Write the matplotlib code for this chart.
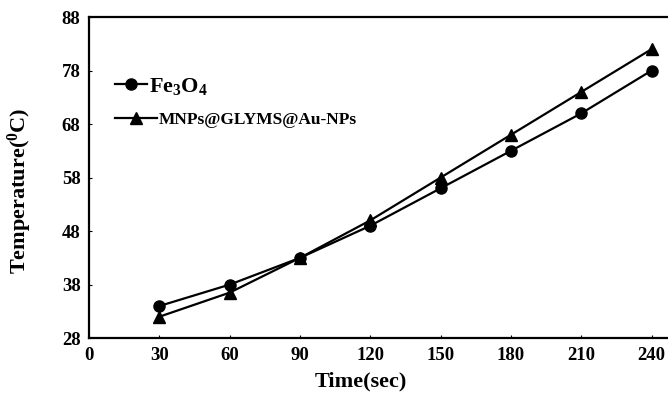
import numpy as np
import matplotlib
matplotlib.use('Agg')
import matplotlib.pyplot as plt

plt.rcParams['font.family'] = 'Liberation Serif'
plt.rcParams['font.weight'] = 'bold'
plt.rcParams['mathtext.fontset'] = 'custom'
plt.rcParams['mathtext.rm'] = 'Liberation Serif:bold'
plt.rcParams['mathtext.it'] = 'Liberation Serif:bold'
plt.rcParams['mathtext.bf'] = 'Liberation Serif:bold'

# data
time_sec = [30, 60, 90, 120, 150, 180, 210, 240]
fe3o4 = [34, 38, 43, 49, 56, 63, 70, 78]
mnps_au = [32, 36.5, 43, 50, 58, 66, 74, 82]
xticks = [0, 30, 60, 90, 120, 150, 180, 210, 240]
yticks = [28, 38, 48, 58, 68, 78, 88]

fig = plt.figure(figsize=(6.68, 3.96), dpi=100)
ax = fig.add_axes([0.133, 0.146, 0.867, 0.811])

l1, = ax.plot(time_sec, fe3o4, color='black', lw=1.6, marker='o', ms=8)
l2, = ax.plot(time_sec, mnps_au, color='black', lw=1.6, marker='^', ms=8)

ax.set_xlim(0, 247)
ax.set_ylim(28, 88)
ax.set_xticks(xticks)
ax.set_yticks(yticks)
ax.tick_params(labelsize=13.5, length=2, width=0.8, direction='in', pad=6)
for lab in ax.get_xticklabels() + ax.get_yticklabels():
    lab.set_fontweight('bold')

ax.spines['right'].set_visible(False)
for s in ['left', 'top', 'bottom']:
    ax.spines[s].set_linewidth(1.6)

ax.set_xlabel('Time(sec)', fontsize=16, fontweight='bold')
ax.xaxis.set_label_coords(0.469, -0.103)
ax.set_ylabel('Temperature($^{0}$C)', fontsize=16, fontweight='bold')
ax.yaxis.set_label_coords(-0.094, 0.46)

# two one-entry legends so each row sits where the reference has it
leg1 = ax.legend([l1], ['Fe$_3$O$_4$'], loc='center left',
                 bbox_to_anchor=(0.045, 0.785), frameon=False,
                 prop={'size': 16, 'weight': 'bold'},
                 handlelength=1.45, handletextpad=0.1,
                 borderpad=0, borderaxespad=0)
ax.add_artist(leg1)
leg2 = ax.legend([l2], ['MNPs@GLYMS@Au-NPs'], loc='center left',
                 bbox_to_anchor=(0.045, 0.679), frameon=False,
                 prop={'size': 12.5, 'weight': 'bold'},
                 handlelength=2.45, handletextpad=0.1,
                 borderpad=0, borderaxespad=0)

fig.savefig('out.png', dpi=100)
